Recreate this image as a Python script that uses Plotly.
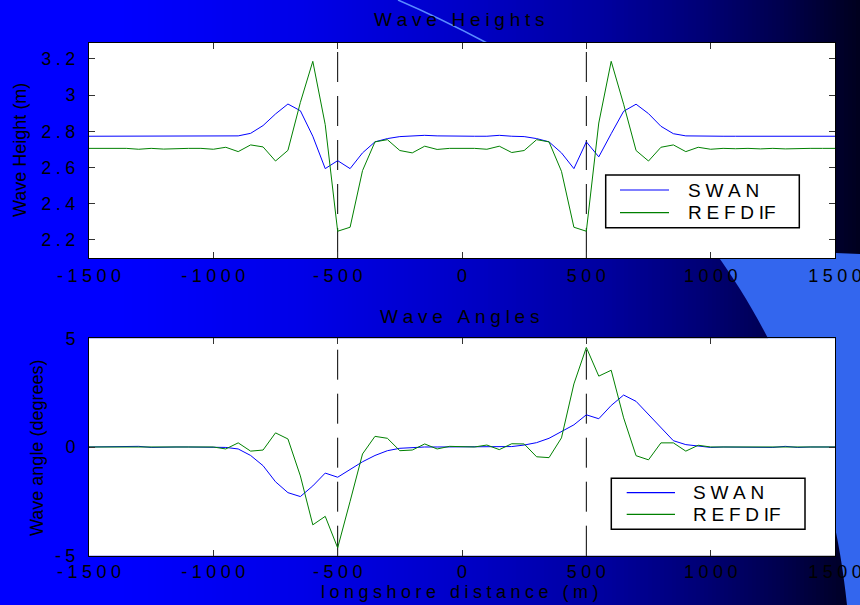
import plotly.graph_objects as go

# ---------------- data ----------------
x_m = [-1500, -1450, -1400, -1350, -1300, -1250, -1200, -1150, -1100, -1050,
       -1000, -950, -900, -850, -800, -750, -700, -650, -600, -550,
       -500, -450, -400, -350, -300, -250, -200, -150, -100, -50,
       0, 50, 100, 150, 200, 250, 300, 350, 400, 450,
       500, 550, 600, 650, 700, 750, 800, 850, 900, 950,
       1000, 1050, 1100, 1150, 1200, 1250, 1300, 1350, 1400, 1450, 1500]

swan_height = [2.773, 2.773, 2.773, 2.773, 2.773, 2.773, 2.773, 2.773, 2.773, 2.773,
               2.773, 2.773, 2.775, 2.789, 2.832, 2.896, 2.951, 2.914, 2.773, 2.594,
               2.638, 2.594, 2.681, 2.742, 2.760, 2.771, 2.773, 2.778, 2.775, 2.773,
               2.773, 2.773, 2.773, 2.778, 2.773, 2.771, 2.760, 2.742, 2.681, 2.594,
               2.742, 2.659, 2.787, 2.911, 2.950, 2.898, 2.828, 2.787, 2.775, 2.773,
               2.773, 2.773, 2.773, 2.773, 2.773, 2.773, 2.773, 2.773, 2.773, 2.773, 2.773]

refdif_height = [2.706, 2.706, 2.704, 2.706, 2.701, 2.706, 2.702, 2.706, 2.706, 2.706,
                 2.701, 2.712, 2.688, 2.725, 2.714, 2.636, 2.695, 2.960, 3.187, 2.837,
                 2.248, 2.270, 2.583, 2.742, 2.754, 2.694, 2.681, 2.718, 2.700, 2.706,
                 2.706, 2.706, 2.701, 2.718, 2.683, 2.694, 2.754, 2.742, 2.579, 2.270,
                 2.248, 2.846, 3.187, 2.950, 2.694, 2.636, 2.712, 2.725, 2.688, 2.712,
                 2.701, 2.706, 2.704, 2.706, 2.703, 2.706, 2.703, 2.706, 2.706, 2.706, 2.706]

swan_angle = [0, 0, 0, 0.02, 0.03, -0.02, 0, 0, 0, 0,
              0, -0.02, -0.09, -0.39, -0.86, -1.60, -2.10, -2.28, -1.79, -1.20,
              -1.39, -1.02, -0.68, -0.39, -0.17, -0.06, -0.02, 0, 0, 0,
              0, 0, 0, 0, 0.02, 0.09, 0.20, 0.40, 0.73, 1.02,
              1.48, 1.30, 1.91, 2.39, 2.10, 1.48, 0.86, 0.29, 0.11, 0.03,
              -0.02, 0, 0, 0, 0, -0.02, 0.03, -0.02, 0, 0, 0]

refdif_angle = [0, 0, 0, 0, 0, 0, 0, 0, 0, 0,
                0, -0.09, 0.19, -0.19, -0.14, 0.65, 0.37, -1.33, -3.58, -3.19,
                -4.64, -2.50, -0.32, 0.49, 0.40, -0.17, -0.14, 0.14, -0.09, 0.03,
                0, 0, 0.09, -0.12, 0.15, 0.14, -0.45, -0.49, 0.42, 2.90,
                4.58, 3.26, 3.53, 1.34, -0.40, -0.59, 0.19, 0.19, -0.19, 0.08,
                0, 0, 0, 0, 0, 0, 0, 0, 0, 0, 0]

breakwater_x = [-500, 500]

series_names = ["SWAN", "REFDIF"]
x_ticks = [-1500, -1000, -500, 0, 500, 1000, 1500]
x_ticklabels = ["-1500", "-1000", "-500", "0", "500", "1000", "1500"]
height_ticks = [2.2, 2.4, 2.6, 2.8, 3.0, 3.2]
height_ticklabels = ["2.2", "2.4", "2.6", "2.8", "3", "3.2"]
angle_ticks = [-5, 0, 5]
angle_ticklabels = ["-5", "0", "5"]

# ---------------- styling helpers ----------------
W, H = 860, 605
SP = "\u2005"
FONT = "Arial, 'Liberation Sans', Helvetica, sans-serif"
SWAN_COLOR = "#0000FF"
REFDIF_COLOR = "#008000"


def spaced(s):
    return SP.join(s)


def legend_label(s):
    # MATLAB-style tracking; "IF" kept tight as in the original
    return spaced(s).replace("I" + SP + "F", "IF")


def px(x):
    return x / W


def py(y):
    return 1 - y / H


# plot areas in pixels (left, right, top, bottom)
PL, PR = 89, 835
TOP1, BOT1 = 42.7, 258
TOP2, BOT2 = 338.3, 555.7

fig = go.Figure()

fig.add_trace(go.Scatter(x=x_m, y=swan_height, mode="lines", name=series_names[0],
                         line=dict(color=SWAN_COLOR, width=1), xaxis="x", yaxis="y", showlegend=False))
fig.add_trace(go.Scatter(x=x_m, y=refdif_height, mode="lines", name=series_names[1],
                         line=dict(color=REFDIF_COLOR, width=1), xaxis="x", yaxis="y", showlegend=False))
fig.add_trace(go.Scatter(x=x_m, y=swan_angle, mode="lines", name=series_names[0],
                         line=dict(color=SWAN_COLOR, width=1), xaxis="x2", yaxis="y2", showlegend=False))
fig.add_trace(go.Scatter(x=x_m, y=refdif_angle, mode="lines", name=series_names[1],
                         line=dict(color=REFDIF_COLOR, width=1), xaxis="x2", yaxis="y2", showlegend=False))

# ---------------- background (slide template) ----------------
shapes = []
stops = [(0, 255), (120, 255), (300, 232), (460, 200), (600, 160), (700, 118), (780, 78), (860, 30)]


def blue_at(x):
    for (x0, b0), (x1, b1) in zip(stops[:-1], stops[1:]):
        if x0 <= x <= x1:
            return b0 + (b1 - b0) * (x - x0) / (x1 - x0)
    return stops[-1][1]


step = 4
for xs in range(0, W, step):
    b = int(round(blue_at(xs + step / 2)))
    shapes.append(dict(type="rect", xref="paper", yref="paper", x0=px(xs), x1=px(xs + step + 0.5),
                       y0=0, y1=1, fillcolor=f"rgb(0,0,{b})", line=dict(width=0), layer="below"))

# light blue swoosh at right
swoosh = (f"M {px(712)},{py(248)} C {px(765)},{py(320)} {px(830)},{py(440)} {px(847)},{py(605)} "
          f"L {px(860)},{py(605)} L {px(860)},{py(254)} Z")
shapes.append(dict(type="path", xref="paper", yref="paper", path=swoosh,
                   fillcolor="#3366EE", line=dict(width=0), layer="below"))
# thin arc at top
arc = f"M {px(398)},{py(0)} Q {px(440)},{py(18)} {px(487)},{py(43)}"
shapes.append(dict(type="path", xref="paper", yref="paper", path=arc,
                   line=dict(color="rgb(90,140,255)", width=1.5), layer="below"))

# white plot areas
for xr, yr in (("x domain", "y domain"), ("x2 domain", "y2 domain")):
    shapes.append(dict(type="rect", xref=xr, yref=yr, x0=0, x1=1, y0=0, y1=1,
                       fillcolor="white", line=dict(width=0), layer="below"))

# dashed breakwater lines
for xr, yr in (("x", "y domain"), ("x2", "y2 domain")):
    for bx in breakwater_x:
        shapes.append(dict(type="line", xref=xr, yref=yr, x0=bx, x1=bx, y0=0, y1=1,
                           line=dict(color="black", width=1, dash="30px,14px"), layer="below"))

# ---------------- axes ----------------
axis_common = dict(showgrid=False, zeroline=False, showline=True, linecolor="black", linewidth=1,
                   mirror="ticks", ticks="inside", ticklen=6, tickcolor="#333", tickwidth=1,
                   automargin=False, ticklabeloverflow="allow",
                   tickfont=dict(family=FONT, size=18, color="black"))

xdom = [px(PL), px(PR)]
fig.update_layout(
    xaxis=dict(domain=xdom, range=[-1500, 1500], anchor="y", tickmode="array", tickvals=x_ticks,
               ticktext=[spaced(t) for t in x_ticklabels], ticklabelstandoff=1, **axis_common),
    yaxis=dict(domain=[py(BOT1), py(TOP1)], range=[2.1, 3.29], anchor="x", tickmode="array",
               tickvals=height_ticks, ticktext=[spaced(t) for t in height_ticklabels],
               ticklabelstandoff=9, **axis_common),
    xaxis2=dict(domain=xdom, range=[-1500, 1500], anchor="y2", tickmode="array", tickvals=x_ticks,
                ticktext=[spaced(t) for t in x_ticklabels], ticklabelstandoff=0, **axis_common),
    yaxis2=dict(domain=[py(BOT2), py(TOP2)], range=[-5, 5], anchor="x2", tickmode="array",
                tickvals=angle_ticks, ticktext=[spaced(t) for t in angle_ticklabels],
                ticklabelstandoff=9, **axis_common),
)

annotations = [
    dict(text=spaced("Wave Heights"), x=px(459), y=py(19), xref="paper", yref="paper",
         showarrow=False, font=dict(family=FONT, size=19, color="black"), xanchor="center", yanchor="middle"),
    dict(text=spaced("Wave Angles"), x=px(459), y=py(316), xref="paper", yref="paper",
         showarrow=False, font=dict(family=FONT, size=19, color="black"), xanchor="center", yanchor="middle"),
    dict(text=spaced("longshore distance (m)"), x=px(460), y=py(592), xref="paper", yref="paper",
         showarrow=False, font=dict(family=FONT, size=18, color="black"), xanchor="center", yanchor="middle"),
    dict(text="Wave Height (m)", x=px(20), y=py(150), xref="paper", yref="paper", textangle=-90,
         showarrow=False, font=dict(family=FONT, size=18, color="black"), xanchor="center", yanchor="middle"),
    dict(text="Wave angle (degrees)", x=px(37), y=py(448), xref="paper", yref="paper", textangle=-90,
         showarrow=False, font=dict(family=FONT, size=18, color="black"), xanchor="center", yanchor="middle"),
]

# ---------------- legends (boxed, MATLAB style) ----------------
legend_boxes = [
    dict(box=(605.7, 799.3, 175, 227.7), line=(620, 669), tx=686, rows=(190, 212.7)),
    dict(box=(611.3, 805, 478.3, 529.3), line=(626.7, 675), tx=690.7, rows=(492.7, 514.3)),
]
colors = [SWAN_COLOR, REFDIF_COLOR]
for lg in legend_boxes:
    l, r, t, b = lg["box"]
    shapes.append(dict(type="rect", xref="paper", yref="paper", x0=px(l), x1=px(r), y0=py(b), y1=py(t),
                       fillcolor="white", line=dict(color="black", width=1.5), layer="above"))
    for name, col, ry in zip(series_names, colors, lg["rows"]):
        shapes.append(dict(type="line", xref="paper", yref="paper", x0=px(lg["line"][0]), x1=px(lg["line"][1]),
                           y0=py(ry), y1=py(ry), line=dict(color=col, width=1.2), layer="above"))
        annotations.append(dict(text=legend_label(name), x=px(lg["tx"]), y=py(ry), xref="paper", yref="paper",
                                showarrow=False, xanchor="left", yanchor="middle",
                                font=dict(family=FONT, size=19, color="black")))

fig.update_layout(
    width=W, height=H, autosize=False,
    margin=dict(l=0, r=0, t=0, b=0, pad=0, autoexpand=False),
    paper_bgcolor="#0000FF", plot_bgcolor="white",
    shapes=shapes, annotations=annotations,
    showlegend=False,
    font=dict(family=FONT, color="black"),
)

fig.write_html("out.html", config={"displayModeBar": False},
               post_script="document.body.style.margin='0';document.body.style.overflow='hidden';")
